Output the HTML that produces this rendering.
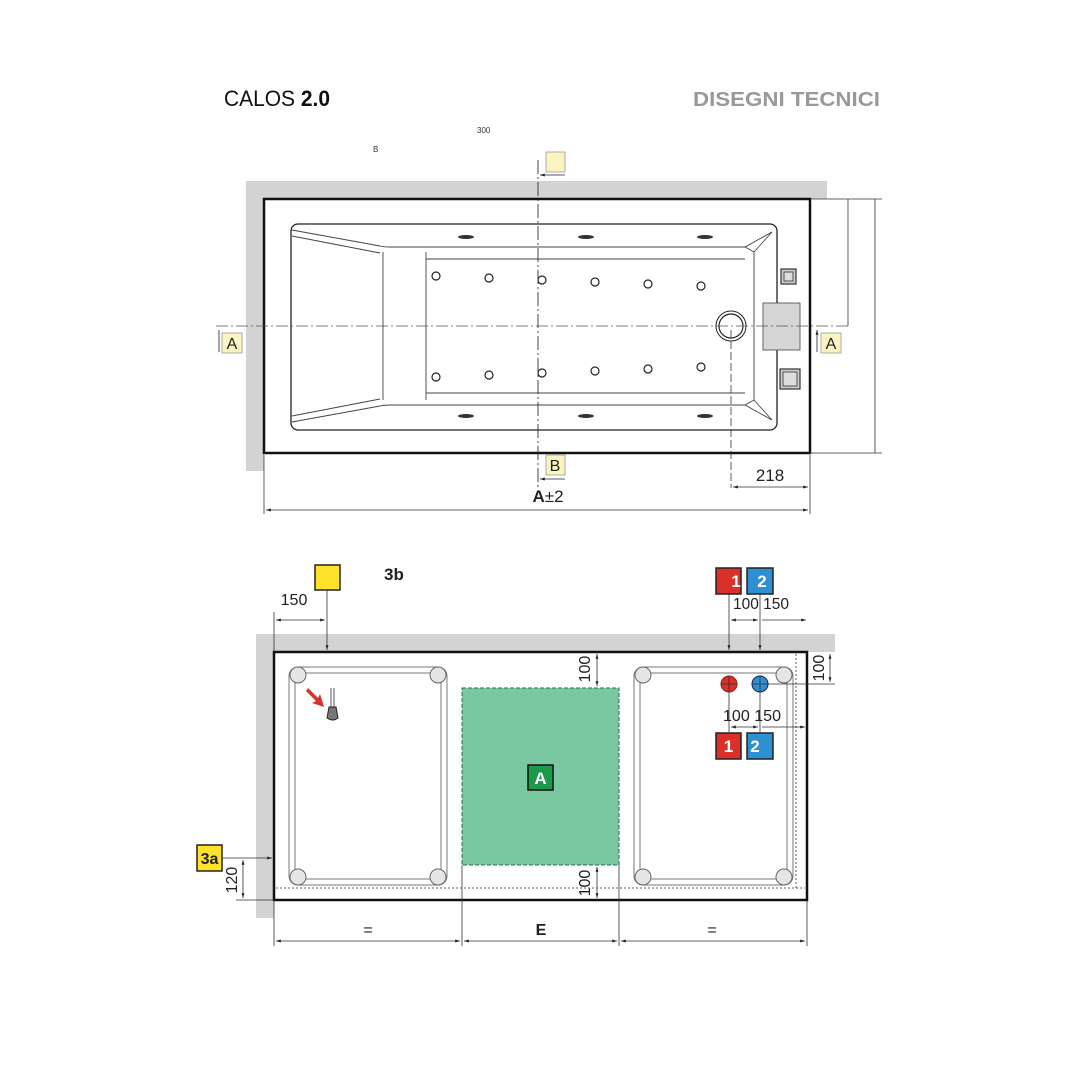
<!DOCTYPE html>
<html><head><meta charset="utf-8"><style>
html,body{margin:0;padding:0;background:#fff;width:1080px;height:1080px;overflow:hidden}
svg{display:block}
text{font-family:"Liberation Sans Narrow","Liberation Sans",sans-serif}
</style></head><body>
<svg width="1080" height="1080" viewBox="0 0 1080 1080" xmlns="http://www.w3.org/2000/svg">
<defs>
<marker id="ar" viewBox="0 0 10 10" refX="10" refY="5" markerWidth="6" markerHeight="6" orient="auto-start-reverse"><path d="M0,2 L10,5 L0,8 z" fill="#222"/></marker>
</defs>
<!-- Titles -->
<text x="224" y="106" font-size="22" fill="#111" textLength="106" lengthAdjust="spacingAndGlyphs">CALOS <tspan font-weight="bold">2.0</tspan></text>
<text x="693" y="106" font-size="20" fill="#999" font-weight="bold" textLength="187" lengthAdjust="spacingAndGlyphs">DISEGNI TECNICI</text>
<text x="477" y="133" font-size="8" fill="#333">300</text>
<text x="373" y="152" font-size="8" fill="#333">B</text>

<!-- TOP VIEW -->
<rect x="246" y="181" width="581" height="18" fill="#d3d3d3"/>
<rect x="246" y="181" width="18" height="290" fill="#d3d3d3"/>
<rect x="264" y="199" width="546" height="254" fill="#fff" stroke="#111" stroke-width="2.5"/>
<rect x="291" y="224" width="486" height="206" rx="7" fill="none" stroke="#222" stroke-width="1.3"/>
<g fill="none" stroke="#444" stroke-width="0.9">
<path d="M292,230 L380,246 Q384,247 390,247 L745,247 L772,232"/>
<path d="M292,236 L380,253"/>
<path d="M292,422 L380,406 Q384,405 390,405 L745,405 L772,420"/>
<path d="M292,416 L380,399"/>
<path d="M383,252 L383,400"/>
<path d="M426,252 L426,400 M426,259 L745,259 M426,393 L745,393"/>
<path d="M745,247 L754,252 L754,400 L745,405"/>
<path d="M754,252 L772,232 M754,400 L772,420"/>
</g>
<g fill="#fff" stroke="#222" stroke-width="1.2">
<circle cx="436" cy="276" r="4"/><circle cx="489" cy="278" r="4"/><circle cx="542" cy="280" r="4"/><circle cx="595" cy="282" r="4"/><circle cx="648" cy="284" r="4"/><circle cx="701" cy="286" r="4"/>
<circle cx="436" cy="377" r="4"/><circle cx="489" cy="375" r="4"/><circle cx="542" cy="373" r="4"/><circle cx="595" cy="371" r="4"/><circle cx="648" cy="369" r="4"/><circle cx="701" cy="367" r="4"/>
</g>
<g fill="#333">
<ellipse cx="466" cy="237" rx="8" ry="2"/><ellipse cx="586" cy="237" rx="8" ry="2"/><ellipse cx="705" cy="237" rx="8" ry="2"/>
<ellipse cx="466" cy="416" rx="8" ry="2"/><ellipse cx="586" cy="416" rx="8" ry="2"/><ellipse cx="705" cy="416" rx="8" ry="2"/>
</g>
<circle cx="731" cy="326" r="15" fill="#fff" stroke="#222" stroke-width="1"/>
<circle cx="731" cy="326" r="12" fill="#fff" stroke="#222" stroke-width="1.2"/>
<line x1="731" y1="330" x2="731" y2="488" stroke="#333" stroke-width="0.8" stroke-dasharray="8,3"/>
<rect x="763" y="303" width="37" height="47" fill="#d6d6d6" stroke="#444" stroke-width="0.8"/>
<rect x="781" y="269" width="15" height="15" fill="#ccc" stroke="#333" stroke-width="1.2"/><rect x="784" y="272" width="9" height="9" fill="#ddd" stroke="#333" stroke-width="0.8"/>
<rect x="780" y="369" width="20" height="20" fill="#ccc" stroke="#333" stroke-width="1.2"/><rect x="783" y="372" width="14" height="14" fill="#ddd" stroke="#333" stroke-width="0.8"/>
<line x1="216" y1="326" x2="850" y2="326" stroke="#555" stroke-width="0.8" stroke-dasharray="12,3,2,3"/>
<line x1="538" y1="160" x2="538" y2="490" stroke="#333" stroke-width="0.9" stroke-dasharray="14,3,2,3"/>
<line x1="565" y1="175" x2="540" y2="175" stroke="#222" stroke-width="0.8" marker-end="url(#ar)"/>
<line x1="565" y1="479" x2="540" y2="479" stroke="#222" stroke-width="0.8" marker-end="url(#ar)"/>
<rect x="546" y="152" width="19" height="20" fill="#fbf3c0" stroke="#999" stroke-width="0.8"/>
<rect x="546" y="455" width="19" height="20" fill="#fbf3c0" stroke="#999" stroke-width="0.8"/>
<text x="555" y="471" font-size="16" text-anchor="middle" fill="#222">B</text>
<rect x="222" y="333" width="20" height="20" fill="#fbf3c0" stroke="#999" stroke-width="0.8"/>
<text x="232" y="349" font-size="16" text-anchor="middle" fill="#222">A</text>
<rect x="821" y="333" width="20" height="20" fill="#fbf3c0" stroke="#999" stroke-width="0.8"/>
<text x="831" y="349" font-size="16" text-anchor="middle" fill="#222">A</text>
<line x1="817" y1="352" x2="817" y2="330" stroke="#222" stroke-width="0.8" marker-end="url(#ar)"/>
<line x1="219" y1="352" x2="219" y2="330" stroke="#222" stroke-width="0.8"/>
<!-- right dims -->
<g stroke="#333" stroke-width="0.8" fill="none">
<line x1="810" y1="199" x2="882" y2="199"/><line x1="810" y1="453" x2="882" y2="453"/>
<line x1="848" y1="199" x2="848" y2="326"/><line x1="875" y1="199" x2="875" y2="453"/>
<line x1="810" y1="455" x2="810" y2="514"/><line x1="264" y1="455" x2="264" y2="514"/>
<line x1="733" y1="487" x2="808" y2="487" marker-start="url(#ar)" marker-end="url(#ar)"/>
<line x1="266" y1="510" x2="808" y2="510" marker-start="url(#ar)" marker-end="url(#ar)"/>
</g>
<text x="770" y="481" font-size="17" text-anchor="middle" fill="#222">218</text>
<text x="548" y="502" font-size="17" text-anchor="middle" fill="#222"><tspan font-weight="bold">A</tspan>±2</text>

<!-- BOTTOM VIEW -->
<rect x="256" y="634" width="579" height="18" fill="#d3d3d3"/>
<rect x="256" y="634" width="18" height="284" fill="#d3d3d3"/>
<rect x="274" y="652" width="533" height="248" fill="#fff" stroke="#111" stroke-width="2.5"/>
<g stroke="#333" stroke-width="0.8" stroke-dasharray="2,2" fill="none">
<line x1="276" y1="888" x2="805" y2="888"/><line x1="796" y1="654" x2="796" y2="888"/>
</g>
<g fill="none" stroke="#777" stroke-width="1">
<rect x="289" y="667" width="158" height="218" rx="9"/><rect x="295" y="673" width="146" height="206" rx="6"/>
<rect x="634" y="667" width="159" height="218" rx="9"/><rect x="640" y="673" width="147" height="206" rx="6"/>
</g>
<g fill="#e5e5e5" stroke="#666" stroke-width="1">
<circle cx="298" cy="675" r="8"/><circle cx="438" cy="675" r="8"/><circle cx="298" cy="877" r="8"/><circle cx="438" cy="877" r="8"/>
<circle cx="643" cy="675" r="8"/><circle cx="784" cy="675" r="8"/><circle cx="643" cy="877" r="8"/><circle cx="784" cy="877" r="8"/>
</g>
<path d="M308,688 L318,698 L320,694 L324,707 L312,703 L316,701 L306,691 Z" fill="#d9302a"/>
<line x1="331" y1="688" x2="331" y2="707" stroke="#333" stroke-width="0.8"/><line x1="334" y1="688" x2="334" y2="707" stroke="#333" stroke-width="0.8"/>
<path d="M329,707 L336,707 L338,718 Q333,722 327,718 Z" fill="#777" stroke="#222" stroke-width="1"/>
<rect x="462" y="688" width="157" height="177" fill="#79c8a2" stroke="#2a6a4a" stroke-width="1" stroke-dasharray="4,2"/>
<rect x="528" y="765" width="25" height="25" fill="#1a9a4a" stroke="#111" stroke-width="1.5"/>
<text x="540.5" y="784" font-size="17" font-weight="bold" text-anchor="middle" fill="#fff">A</text>
<!-- yellow 3b -->
<rect x="315" y="565" width="25" height="25" fill="#ffe32a" stroke="#222" stroke-width="1.5"/>
<text x="384" y="580" font-size="17" font-weight="bold" fill="#222">3b</text>
<g stroke="#333" stroke-width="0.8" fill="none">
<line x1="327" y1="590" x2="327" y2="650" marker-end="url(#ar)"/>
<line x1="274" y1="612" x2="274" y2="652"/>
<line x1="276" y1="620" x2="325" y2="620" marker-start="url(#ar)" marker-end="url(#ar)"/>
<line x1="729" y1="594" x2="729" y2="650" marker-end="url(#ar)"/>
<line x1="760" y1="594" x2="760" y2="650" marker-end="url(#ar)"/>
<line x1="731" y1="620" x2="758" y2="620" marker-start="url(#ar)" marker-end="url(#ar)"/>
<line x1="762" y1="620" x2="806" y2="620" marker-end="url(#ar)"/>
<line x1="729" y1="676" x2="729" y2="732"/><line x1="760" y1="676" x2="760" y2="732"/>
<line x1="721" y1="684" x2="737" y2="684"/><line x1="752" y1="684" x2="835" y2="684"/>
<line x1="731" y1="727" x2="758" y2="727" marker-start="url(#ar)" marker-end="url(#ar)"/>
<line x1="762" y1="727" x2="805" y2="727" marker-end="url(#ar)"/>
<line x1="597" y1="654" x2="597" y2="686" marker-start="url(#ar)" marker-end="url(#ar)"/>
<line x1="597" y1="867" x2="597" y2="898" marker-start="url(#ar)" marker-end="url(#ar)"/>
<line x1="830" y1="654" x2="830" y2="682" marker-start="url(#ar)" marker-end="url(#ar)"/>
<line x1="222" y1="858" x2="272" y2="858" marker-end="url(#ar)"/>
<line x1="236" y1="900" x2="274" y2="900"/>
<line x1="243" y1="860" x2="243" y2="898" marker-start="url(#ar)" marker-end="url(#ar)"/>
<line x1="274" y1="900" x2="274" y2="946"/><line x1="462" y1="865" x2="462" y2="946"/>
<line x1="619" y1="865" x2="619" y2="946"/><line x1="807" y1="900" x2="807" y2="946"/>
<line x1="276" y1="941" x2="460" y2="941" marker-start="url(#ar)" marker-end="url(#ar)"/>
<line x1="464" y1="941" x2="617" y2="941" marker-start="url(#ar)" marker-end="url(#ar)"/>
<line x1="621" y1="941" x2="805" y2="941" marker-start="url(#ar)" marker-end="url(#ar)"/>
</g>
<circle cx="729" cy="684" r="8" fill="#d9302a" stroke="#822" stroke-width="1"/>
<circle cx="760" cy="684" r="8" fill="#2e90d0" stroke="#125" stroke-width="1"/>
<line x1="721" y1="684" x2="737" y2="684" stroke="#333" stroke-width="0.8"/><line x1="729" y1="676" x2="729" y2="692" stroke="#333" stroke-width="0.8"/>
<line x1="752" y1="684" x2="768" y2="684" stroke="#333" stroke-width="0.8"/><line x1="760" y1="676" x2="760" y2="692" stroke="#333" stroke-width="0.8"/>
<g font-size="17" font-weight="bold" text-anchor="middle" fill="#fff">
<rect x="716" y="568" width="25" height="26" fill="#d9302a" stroke="#222" stroke-width="1.5"/><text x="736" y="587">1</text>
<rect x="747" y="568" width="26" height="26" fill="#2e90d0" stroke="#222" stroke-width="1.5"/><text x="762" y="587">2</text>
<rect x="716" y="733" width="25" height="26" fill="#d9302a" stroke="#222" stroke-width="1.5"/><text x="728.5" y="752">1</text>
<rect x="747" y="733" width="26" height="26" fill="#2e90d0" stroke="#222" stroke-width="1.5"/><text x="755" y="752">2</text>
</g>
<rect x="197" y="845" width="25" height="26" fill="#ffe32a" stroke="#222" stroke-width="1.5"/>
<text x="209.5" y="864" font-size="16" font-weight="bold" text-anchor="middle" fill="#222">3a</text>
<g font-size="16" fill="#222" text-anchor="middle">
<text x="294" y="605">150</text>
<text x="761" y="609" textLength="56" lengthAdjust="spacingAndGlyphs">100 150</text>
<text x="752" y="721" textLength="58" lengthAdjust="spacingAndGlyphs">100 150</text>
<text x="590" y="669" transform="rotate(-90 590 669)">100</text>
<text x="590" y="883" transform="rotate(-90 590 883)">100</text>
<text x="824" y="668" transform="rotate(-90 824 668)">100</text>
<text x="237" y="880" transform="rotate(-90 237 880)">120</text>
<text x="368" y="935">=</text>
<text x="541" y="935" font-weight="bold">E</text>
<text x="712" y="935">=</text>
</g>
</svg>
</body></html>
